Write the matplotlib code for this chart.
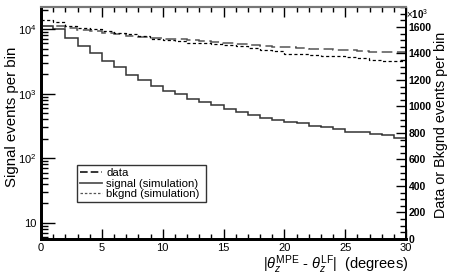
import matplotlib
matplotlib.use("Agg")
import matplotlib.pyplot as plt
import numpy as np
from matplotlib.lines import Line2D
from matplotlib.ticker import FixedLocator, MultipleLocator, FuncFormatter, LogLocator, NullFormatter

plt.rcParams['font.family'] = ['Liberation Sans', 'DejaVu Sans']
plt.rcParams['mathtext.fontset'] = 'custom'
plt.rcParams['mathtext.rm'] = 'Liberation Sans'
plt.rcParams['mathtext.it'] = 'Liberation Sans:italic'

# 1-degree bins of |theta_MPE - theta_LF|
bin_edges = np.arange(0, 31)

# signal (simulation), events per bin (log scale, left axis)
signal = [11200, 10200, 7400, 5500, 4300, 3200, 2550, 1980, 1640, 1310,
          1100, 975, 825, 735, 660, 585, 516, 475, 417, 395,
          366, 345, 317, 306, 282, 252, 252, 235, 227, 207]

# data and bkgnd (simulation), events per bin in units of 10^3 (right axis)
data = [1610, 1603, 1595, 1578, 1566, 1554, 1543, 1535, 1526, 1518,
        1512, 1505, 1498, 1490, 1484, 1478, 1470, 1463, 1457, 1452,
        1447, 1443, 1436, 1430, 1426, 1422, 1418, 1414, 1411, 1409]
bkgnd = [1655, 1640, 1608, 1592, 1585, 1566, 1556, 1546, 1532, 1506,
         1500, 1490, 1480, 1478, 1470, 1465, 1455, 1440, 1428, 1420,
         1398, 1392, 1385, 1380, 1378, 1372, 1368, 1350, 1345, 1342]


def main():
    fig = plt.figure(figsize=(4.57, 2.79), dpi=100)
    ax1 = fig.add_axes([41 / 457, 1 - 239 / 279, 365 / 457, 232 / 279])
    ax2 = ax1.twinx()

    ax1.stairs(signal, bin_edges, baseline=None, color='#333333', lw=1.1)
    ax2.stairs(data, bin_edges, baseline=None, color='#555555', lw=1.1,
               linestyle=(0, (7, 3)))
    ax2.stairs(bkgnd, bin_edges, baseline=None, color='black', lw=0.9,
               linestyle=(0, (2.5, 2)))

    ax1.set_xlim(0, 30)
    ax1.set_yscale('log')
    ax1.set_ylim(5.6, 2.2e4)
    ax2.set_ylim(0, 1750)

    # x ticks, inside, mirrored on top
    ax1.xaxis.set_major_locator(MultipleLocator(5))
    ax1.xaxis.set_minor_locator(MultipleLocator(1))
    ax1.tick_params(axis='x', which='both', direction='in', top=True,
                    labelsize=8, pad=3)
    ax1.tick_params(axis='x', which='major', length=7, width=1)
    ax1.tick_params(axis='x', which='minor', length=3.5, width=1)

    # left log axis
    ax1.yaxis.set_major_locator(FixedLocator([10, 100, 1000, 10000]))
    ax1.yaxis.set_minor_locator(LogLocator(base=10, subs=np.arange(2, 10)))
    ax1.yaxis.set_minor_formatter(NullFormatter())

    def logfmt(v, pos):
        e = int(round(np.log10(v)))
        if e == 1:
            return '10'
        return r'$10^{%d}$' % e
    ax1.yaxis.set_major_formatter(FuncFormatter(logfmt))
    ax1.tick_params(axis='y', which='both', direction='in', labelsize=8, pad=3)
    ax1.tick_params(axis='y', which='major', length=10, width=1)
    ax1.tick_params(axis='y', which='minor', length=5, width=1)

    # right linear axis
    ax2.yaxis.set_major_locator(MultipleLocator(200))
    ax2.yaxis.set_minor_locator(MultipleLocator(50))
    ax2.tick_params(axis='y', which='both', direction='in', labelsize=7.5, pad=2)
    ax2.tick_params(axis='y', which='major', length=7.5, width=1)
    ax2.tick_params(axis='y', which='minor', length=4, width=1)
    for lab in ax2.get_yticklabels():
        lab.set_fontweight('bold')
    ax2.text(1.0, 1.0, r'$\times$10$^{3}$', transform=ax2.transAxes,
             fontsize=7, fontweight='bold', ha='left', va='top')

    for ax in (ax1, ax2):
        ax.spines['left'].set_linewidth(2)
        ax.spines['bottom'].set_linewidth(2)
        ax.spines['top'].set_linewidth(1.5)
        ax.spines['top'].set_color('#777777')
        ax.spines['right'].set_linewidth(1.2)

    fig.text(12.5 / 457, 1 - 117 / 279, 'Signal events per bin', rotation=90,
             ha='center', va='center', fontsize=10.8)
    fig.text(441 / 457, 1 - 125 / 279, 'Data or Bkgnd events per bin',
             rotation=90, ha='center', va='center', fontsize=10.3)
    fig.text(408 / 457, 1 - 265 / 279,
             r'$|\theta_z^{\mathrm{MPE}}$ - $\theta_z^{\mathrm{LF}}|$  (degrees)',
             ha='right', va='center', fontsize=10.5)

    handles = [
        Line2D([], [], color='black', lw=1.1, linestyle=(0, (5, 2))),
        Line2D([], [], color='#555555', lw=1.3),
        Line2D([], [], color='#555555', lw=0.9, linestyle=(0, (2, 1.5))),
    ]
    leg = ax2.legend(handles, ['data', 'signal (simulation)', 'bkgnd (simulation)'],
                     loc='lower left', bbox_to_anchor=(0.099, 0.159, 0.353, 0.173),
                     mode='expand', fontsize=8.2, frameon=True, fancybox=False,
                     borderaxespad=0, handlelength=1.9, handletextpad=0.4,
                     labelspacing=0.05, borderpad=0.25)
    leg.get_frame().set_edgecolor('black')
    leg.get_frame().set_linewidth(1)

    fig.savefig('out.png', dpi=100)


if __name__ == "__main__":
    main()
